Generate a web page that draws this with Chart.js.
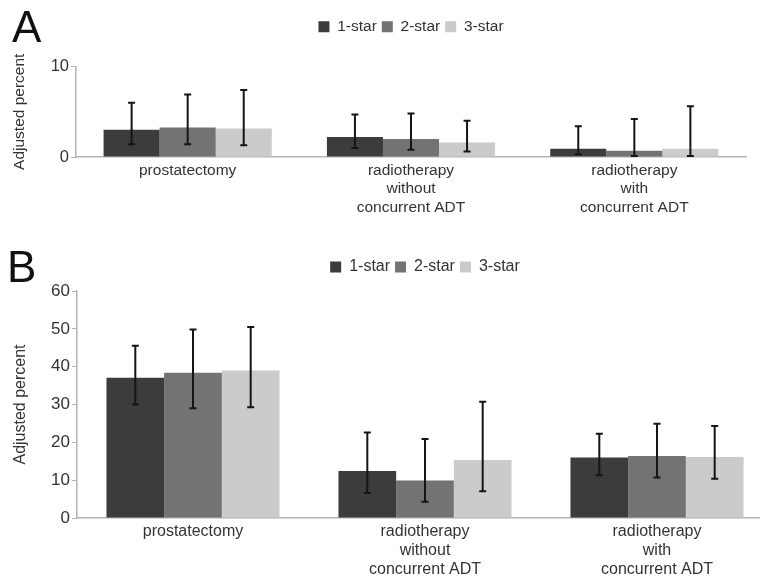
<!DOCTYPE html>
<html>
<head>
<meta charset="utf-8">
<script src="https://cdn.jsdelivr.net/npm/chart.js@4/dist/chart.umd.min.js"></script>
<style>
  html, body { margin: 0; padding: 0; background: #fff; overflow: hidden; width: 760px; height: 583px; }
  .panel { position: absolute; left: 0; }
  .tag { position: absolute; font-family: 'Liberation Sans', Arial, sans-serif; font-size: 44px; line-height: 44px; color: #111; }
</style>
</head>
<body>
<div class="panel" style="top:0; width:760px; height:235px;"><canvas id="chartA" width="760" height="235"></canvas></div>
<div class="panel" style="top:240px; width:780px; height:343px;"><canvas id="chartB" width="780" height="343"></canvas></div>
<div class="tag" style="left:12px; top:5px;">A</div>
<div class="tag" style="left:7px; top:245px;">B</div>
<script>
const categories = ['prostatectomy', ['radiotherapy', 'without', 'concurrent ADT'], ['radiotherapy', 'with', 'concurrent ADT']];
const starLabels = ['1-star', '2-star', '3-star'];
const starColors = ['#3c3c3c', '#737373', '#cbcbcb'];

// panel A values (adjusted percent) and 95% limits
const a1 = [3.0, 2.2, 0.9];
const a1Lo = [1.4, 1.0, 0.3];
const a1Hi = [6.0, 4.7, 3.4];
const a2 = [3.25, 2.0, 0.7];
const a2Lo = [1.4, 0.8, 0.1];
const a2Hi = [6.9, 4.8, 4.2];
const a3 = [3.15, 1.6, 0.9];
const a3Lo = [1.3, 0.6, 0.1];
const a3Hi = [7.4, 4.0, 5.6];

// panel B values
const b1 = [37.1, 12.4, 16.0];
const b1Lo = [30.0, 6.6, 11.3];
const b1Hi = [45.5, 22.6, 22.3];
const b2 = [38.4, 9.9, 16.4];
const b2Lo = [29.0, 4.3, 10.7];
const b2Hi = [49.8, 20.9, 24.9];
const b3 = [39.0, 15.3, 16.1];
const b3Lo = [29.3, 7.1, 10.4];
const b3Hi = [50.5, 30.7, 24.3];

const yTicksA = [0, 10];
const yTicksB = [0, 10, 20, 30, 40, 50, 60];

const FONT = "'Liberation Sans', Arial, sans-serif";
const TEXT = '#333';
const AXIS = '#b4b4b4';

// --- ERROR BARS ---
const errorBars = {
  id: 'errorBars',
  afterDatasetsDraw(chart) {
    const ctx = chart.ctx;
    const y = chart.scales.y;
    ctx.save();
    ctx.strokeStyle = '#151515';
    ctx.lineWidth = 2;
    chart.data.datasets.forEach((ds, i) => {
      const meta = chart.getDatasetMeta(i);
      meta.data.forEach((bar, j) => {
        const top = y.getPixelForValue(ds.hi[j]);
        const bot = y.getPixelForValue(ds.lo[j]);
        ctx.beginPath();
        ctx.moveTo(bar.x, top); ctx.lineTo(bar.x, bot);
        ctx.moveTo(bar.x - 3.5, top); ctx.lineTo(bar.x + 3.5, top);
        ctx.moveTo(bar.x - 3.5, bot); ctx.lineTo(bar.x + 3.5, bot);
        ctx.stroke();
      });
    });
    ctx.restore();
  }
};

function makeChart(id, sets, yTicks, opts) {
  const ctx = document.getElementById(id).getContext('2d');
  return new Chart(ctx, {
    type: 'bar',
    data: {
      labels: categories,
      datasets: sets.map((s, i) => ({
        label: starLabels[i],
        data: s[0], lo: s[1], hi: s[2],
        backgroundColor: starColors[i],
        borderWidth: 0,
        categoryPercentage: opts.catPct,
        barPercentage: 1.0
      }))
    },
    options: {
      responsive: false,
      animation: false,
      layout: { padding: { top: opts.padTop, right: opts.padRight, left: 0, bottom: 0 } },
      plugins: {
        legend: {
          position: 'top',
          fullSize: false,
          labels: {
            boxWidth: 11, boxHeight: 11, padding: opts.legendPad,
            color: TEXT, font: { family: FONT, size: opts.fs }
          }
        },
        tooltip: { enabled: false }
      },
      scales: {
        x: {
          offset: true,
          grid: { display: true, drawOnChartArea: false, drawTicks: false },
          border: { color: AXIS, width: 1.5 },
          ticks: { color: TEXT, padding: 4, maxRotation: 0, autoSkip: false, font: { family: FONT, size: opts.fs } },
          afterFit: s => { s.height = opts.xHeight; }
        },
        // empty box between the legend and the plot
        gap: {
          type: 'linear',
          position: 'top',
          display: true,
          grid: { display: false },
          border: { display: false },
          ticks: { display: false },
          afterFit: s => { s.height = opts.gap; }
        },
        y: {
          min: 0,
          max: yTicks[yTicks.length - 1],
          afterBuildTicks: s => { s.ticks = yTicks.map(v => ({ value: v })); },
          grid: { display: true, drawOnChartArea: false, drawTicks: true, tickLength: 5, color: AXIS },
          border: { color: AXIS, width: 1.5 },
          ticks: { color: TEXT, padding: 2, font: { family: FONT, size: opts.fs + 1 } },
          title: { display: true, text: 'Adjusted percent', color: TEXT, padding: { top: opts.titlePad, bottom: 0 }, font: { family: FONT, size: opts.fs } },
          afterFit: s => { s.width = opts.yWidth; }
        }
      }
    },
    plugins: [errorBars]
  });
}

makeChart('chartA', [[a1, a1Lo, a1Hi], [a2, a2Lo, a2Hi], [a3, a3Lo, a3Hi]], yTicksA,
  { catPct: 0.753, padTop: 14, padRight: 14, legendPad: 5, fs: 15.5, xHeight: 78, yWidth: 76, gap: 22, titlePad: 10 });
makeChart('chartB', [[b1, b1Lo, b1Hi], [b2, b2Lo, b2Hi], [b3, b3Lo, b3Hi]], yTicksB,
  { catPct: 0.746, padTop: 14, padRight: 7, legendPad: 5, fs: 16, xHeight: 65, yWidth: 77, gap: 6, titlePad: 11 });
</script>
</body>
</html>
